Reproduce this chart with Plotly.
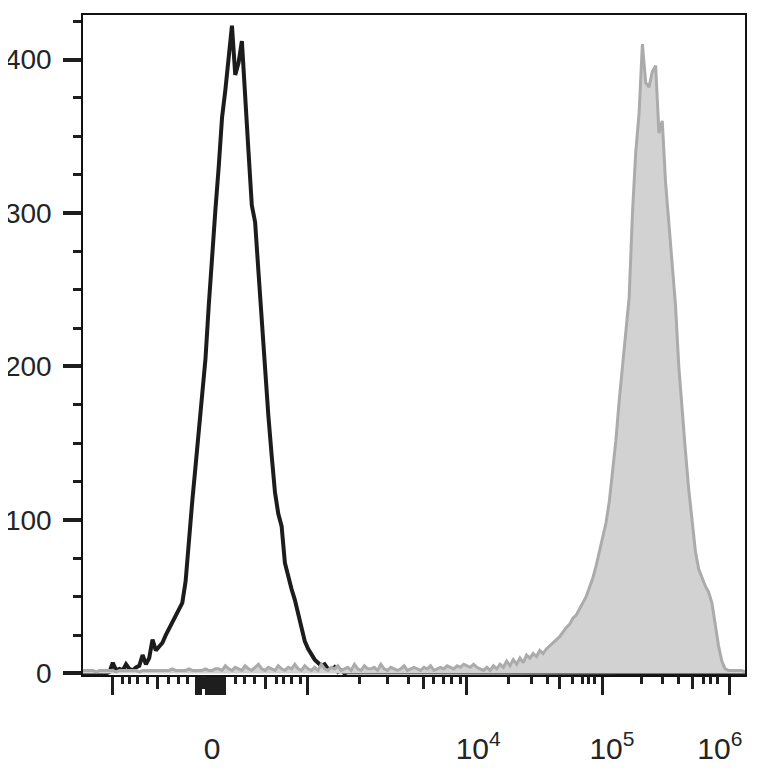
import plotly.graph_objects as go

# ---- data (x in display channels 0..1000 of a biexponential axis) ----
black_ch = [0] + list(range(30, 405, 5)) + [1000]
black_counts = [0,
    0, 0, 1, 7, 2, 3, 2, 6, 3, 2, 4, 5, 12, 6, 10, 22, 15, 18, 20, 25,
    29, 33, 38, 41, 46, 60, 88, 112, 135, 160, 182, 205, 240, 275, 302, 330,
    362, 380, 400, 422, 390, 398, 412, 380, 340, 305, 294, 262, 228, 199, 168,
    142, 118, 104, 96, 72, 62, 55, 48, 38, 30, 21, 16, 12, 9, 7, 5, 6, 3, 2,
    4, 1, 2, 0, 1,
    0]

gray_ch = list(range(0, 1001, 5))
gray_counts = [
    2, 2, 2, 2, 1, 2, 2, 2, 2, 2, 1, 2, 2, 2, 2, 2, 2, 1, 2, 2,
    2, 2, 2, 2, 2, 2, 2, 3, 2, 2, 2, 2, 3, 2, 2, 2, 2, 3, 2, 2,
    3, 3, 2, 5, 3, 2, 4, 3, 2, 5, 3, 2, 4, 6, 3, 2, 4, 3, 2, 5,
    3, 2, 4, 3, 6, 3, 2, 5, 3, 2, 4, 2, 6, 3, 2, 4, 3, 5, 2, 3,
    4, 2, 6, 3, 2, 5, 3, 3, 4, 2, 6, 3, 2, 4, 3, 2, 3, 5, 2, 3,
    4, 3, 2, 4, 3, 5, 2, 3, 4, 3, 5, 4, 3, 5, 4, 6, 5, 4, 6, 4,
    3, 2, 4, 2, 5, 3, 6, 4, 8, 5, 9, 6, 10, 7, 12, 10, 13, 11, 15, 13,
    16, 18, 20, 22, 24, 27, 30, 32, 36, 38, 42, 46, 50, 56, 62, 70, 80, 88, 98, 112,
    132, 152, 178, 200, 222, 245, 300, 340, 365, 410, 385, 382, 392, 396, 352, 360, 320, 295, 268, 240,
    200, 170, 145, 120, 98, 80, 68, 62, 57, 53, 46, 32, 18, 8, 3, 2, 2, 2, 2, 2,
    1]

# axis ticks (display channels)
label_pos = [195, 597, 799, 962]
label_text = ["0", "10<sup>4</sup>", "10<sup>5</sup>", "10<sup>6</sup>"]
long_ticks = [45.3, 172, 175, 178, 187, 190, 193, 196.5, 199, 202, 205, 208, 211, 214,
              338.4, 580, 784, 977]
medium_ticks = [113, 181, 184, 276, 514, 720.5, 920]
short_ticks = [59, 69.5, 81.6, 96.7, 128.4, 143.5, 158.6, 229.6, 244.7, 259.8, 293,
               303.6, 315.7, 327.8, 417, 460.7, 491, 530, 545, 557, 569.5, 642, 678,
               702, 740, 754, 764, 772, 843, 876, 900, 936.6, 948.6, 957.7]
y_ticks = [0, 100, 200, 300, 400]

FONT = "Liberation Sans, Arial, sans-serif"
INK = "#242424"

fig = go.Figure()
fig.add_trace(go.Scatter(
    x=black_ch, y=black_counts, mode="lines",
    line=dict(color="#1c1c1c", width=4), xaxis="x", yaxis="y",
    showlegend=False, hoverinfo="skip"))
fig.add_trace(go.Scatter(
    x=gray_ch, y=gray_counts, mode="lines", fill="tozeroy",
    fillcolor="#d2d2d2", line=dict(color="#ababab", width=3),
    xaxis="x2", yaxis="y", showlegend=False, hoverinfo="skip"))

XR = [0, 1000]
# the page body adds an 8px offset, so the figure is 8px smaller on each axis
fig.update_layout(
    width=756, height=772,
    margin=dict(l=75, r=19, t=7, b=105, autoexpand=False),
    paper_bgcolor="white", plot_bgcolor="white",
    font=dict(family=FONT, color=INK, size=30),
    xaxis=dict(
        range=XR, showgrid=False, zeroline=False, automargin=False,
        showline=True, linecolor="#111", linewidth=2, mirror=True,
        tickmode="array", tickvals=label_pos, ticktext=label_text,
        ticks="", ticklabelstandoff=46,
        tickfont=dict(family=FONT, size=30, color=INK),
        minor=dict(tickmode="array", tickvals=long_ticks, ticks="outside",
                   ticklen=18, tickwidth=3, tickcolor="#1e1e1e", showgrid=False),
    ),
    xaxis2=dict(
        range=XR, overlaying="x", anchor="y", side="bottom", automargin=False,
        showgrid=False, zeroline=False, showline=False, showticklabels=False,
        tickmode="array", tickvals=medium_ticks, ticks="outside",
        ticklen=13, tickwidth=3, tickcolor="#1e1e1e",
        minor=dict(tickmode="array", tickvals=short_ticks, ticks="outside",
                   ticklen=8, tickwidth=3, tickcolor="#1e1e1e", showgrid=False),
    ),
    yaxis=dict(
        range=[-1, 429], showgrid=False, zeroline=False, automargin=False,
        showline=True, linecolor="#111", linewidth=1.5, mirror=True,
        tickmode="array", tickvals=y_ticks, ticks="outside",
        ticklen=18, tickwidth=4, tickcolor="#1e1e1e", ticklabelstandoff=6,
        tickfont=dict(family=FONT, size=28, color=INK),
        minor=dict(dtick=25, tick0=0, ticks="outside", ticklen=8, tickwidth=3,
                   tickcolor="#1e1e1e", showgrid=False),
    ),
)

fig.write_html("out.html")
